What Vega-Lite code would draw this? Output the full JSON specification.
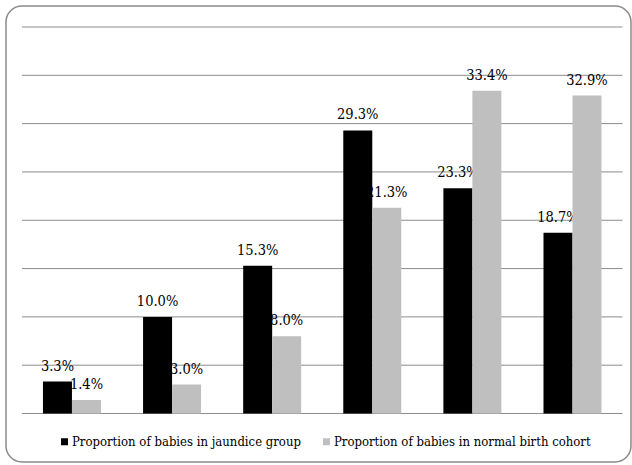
{
  "$schema": "https://vega.github.io/schema/vega-lite/v6.json",
  "width": 625,
  "height": 456,
  "autosize": {"type": "none"},
  "padding": {"left": 6, "top": 6, "right": 1, "bottom": 3},
  "background": "white",
  "config": {
    "view": {"stroke": "#8a8a8a", "strokeWidth": 1.5, "cornerRadius": 16, "fill": "white"}
  },
  "datasets": {
    "bars": [
      {"group": "1", "series": "Proportion of babies  in jaundice group", "value": 0.033},
      {"group": "1", "series": "Proportion of babies  in normal birth cohort", "value": 0.014},
      {"group": "2", "series": "Proportion of babies  in jaundice group", "value": 0.100},
      {"group": "2", "series": "Proportion of babies  in normal birth cohort", "value": 0.030},
      {"group": "3", "series": "Proportion of babies  in jaundice group", "value": 0.153},
      {"group": "3", "series": "Proportion of babies  in normal birth cohort", "value": 0.080},
      {"group": "4", "series": "Proportion of babies  in jaundice group", "value": 0.293},
      {"group": "4", "series": "Proportion of babies  in normal birth cohort", "value": 0.213},
      {"group": "5", "series": "Proportion of babies  in jaundice group", "value": 0.233},
      {"group": "5", "series": "Proportion of babies  in normal birth cohort", "value": 0.334},
      {"group": "6", "series": "Proportion of babies  in jaundice group", "value": 0.187},
      {"group": "6", "series": "Proportion of babies  in normal birth cohort", "value": 0.329}
    ],
    "grid": [
      {"v": 0}, {"v": 0.05}, {"v": 0.1}, {"v": 0.15}, {"v": 0.2},
      {"v": 0.25}, {"v": 0.3}, {"v": 0.35}, {"v": 0.4}
    ]
  },
  "layer": [
    {
      "data": {"name": "grid"},
      "mark": {"type": "rule", "color": "#8c8c8c", "strokeWidth": 1},
      "encoding": {
        "y": {"field": "v", "type": "quantitative", "scale": {"domain": [-0.05019, 0.42173], "nice": false, "zero": false}, "axis": null},
        "x": {"datum": 0, "type": "quantitative", "scale": {"domain": [-0.02664, 1.01415], "nice": false, "zero": false}, "axis": null},
        "x2": {"datum": 1}
      }
    },
    {
      "data": {"name": "bars"},
      "mark": {"type": "text", "font": "DejaVu Serif Condensed", "fontSize": 14.5, "baseline": "alphabetic", "dy": -11, "color": "black"},
      "encoding": {
        "x": {"field": "group", "type": "nominal", "scale": {"type": "band", "paddingInner": 0.4206, "paddingOuter": 0.332, "align": 0.556}, "axis": null},
        "xOffset": {"field": "series", "type": "nominal"},
        "y": {"field": "value", "type": "quantitative", "scale": {"domain": [-0.05019, 0.42173], "nice": false, "zero": false}, "axis": null},
        "text": {"field": "value", "type": "quantitative", "format": ".1%"}
      }
    },
    {
      "data": {"name": "bars"},
      "mark": {"type": "bar"},
      "encoding": {
        "x": {"field": "group", "type": "nominal", "scale": {"type": "band", "paddingInner": 0.4206, "paddingOuter": 0.332, "align": 0.556}, "axis": null},
        "xOffset": {"field": "series", "type": "nominal"},
        "y": {"field": "value", "type": "quantitative", "scale": {"domain": [-0.05019, 0.42173], "nice": false, "zero": false}, "axis": null},
        "color": {
          "field": "series",
          "type": "nominal",
          "scale": {"domain": ["Proportion of babies  in jaundice group", "Proportion of babies  in normal birth cohort"], "range": ["#000000", "#BFBFBF"]},
          "legend": {
            "orient": "none",
            "legendX": 52,
            "legendY": 429,
            "direction": "horizontal",
            "title": null,
            "symbolType": "square",
            "symbolSize": 49,
            "symbolStrokeWidth": 0,
            "labelFont": "DejaVu Serif Condensed",
            "labelFontSize": 13,
            "labelColor": "black",
            "labelOffset": 1,
            "columnPadding": 15,
            "padding": 0,
            "labelLimit": 0
          }
        }
      }
    }
  ],
  "resolve": {"scale": {"x": "independent"}}
}
